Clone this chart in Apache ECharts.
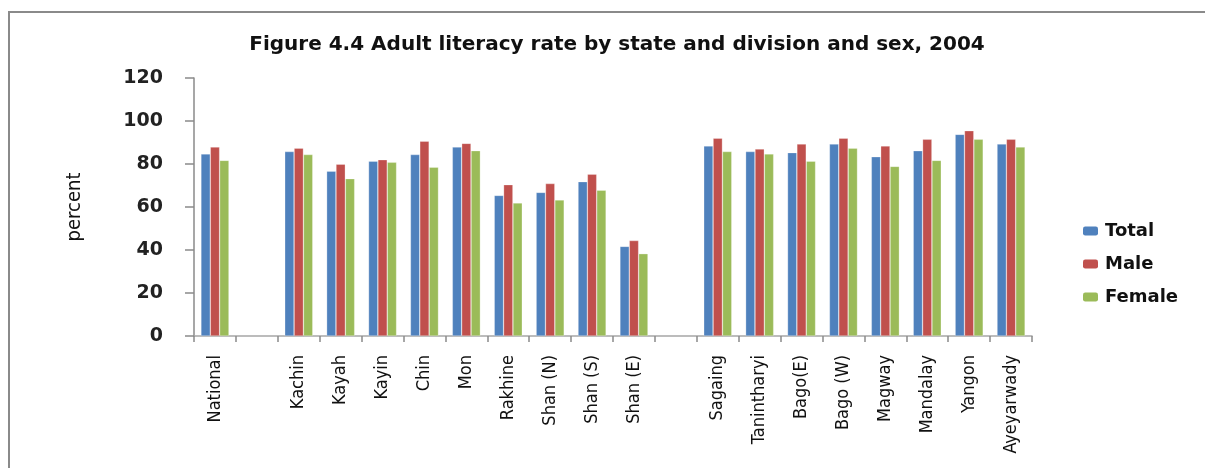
<!DOCTYPE html>
<html>
<head>
<meta charset="utf-8">
<title>Adult literacy rate by state and division and sex, 2004</title>
<script src="https://cdn.jsdelivr.net/npm/echarts@6/dist/echarts.min.js"></script>
<style>
  html, body { margin: 0; padding: 0; background: #ffffff; }
  #chart { width: 1205px; height: 468px; }
</style>
</head>
<body>
<div id="chart"></div>
<script>
// Categories along the x axis; empty strings leave gaps between groups
const categories = [
  'National', '',
  'Kachin', 'Kayah', 'Kayin', 'Chin', 'Mon', 'Rakhine', 'Shan (N)', 'Shan (S)', 'Shan (E)', ' ',
  'Sagaing', 'Tanintharyi', 'Bago(E)', 'Bago (W)', 'Magway', 'Mandalay', 'Yangon', 'Ayeyarwady'
];

// Adult literacy rate (percent)
const totalValues  = [84.7, null, 85.8, 76.7, 81.3, 84.4, 87.9, 65.4, 66.8, 71.8, 41.7, null, 88.4, 85.8, 85.3, 89.3, 83.4, 86.2, 93.8, 89.3];
const maleValues   = [87.9, null, 87.4, 79.9, 82.0, 90.6, 89.6, 70.4, 70.9, 75.3, 44.4, null, 92.0, 87.0, 89.3, 92.0, 88.4, 91.5, 95.5, 91.5];
const femaleValues = [81.7, null, 84.4, 73.2, 80.8, 78.5, 86.2, 61.9, 63.3, 67.8, 38.3, null, 85.8, 84.7, 81.3, 87.4, 78.9, 81.7, 91.5, 87.9];

const yTicks = [0, 20, 40, 60, 80, 100, 120];

const chartTitle = 'Figure 4.4 Adult literacy rate by state and division and sex, 2004';

const narrowFont = '"DejaVu Sans Condensed", "Liberation Sans", sans-serif';

const chart = echarts.init(document.getElementById('chart'), null, { renderer: 'canvas' });

const barSeries = (name, data, color) => ({
  name: name,
  type: 'bar',
  data: data,
  barGap: '0%',
  barCategoryGap: '33%',
  itemStyle: { color: color, borderColor: 'rgba(255,255,255,0.45)', borderWidth: 0.6 },
  emphasis: { disabled: true }
});

chart.setOption({
  animation: false,
  backgroundColor: '#ffffff',
  graphic: [{
    type: 'rect',
    silent: true,
    shape: { x: 9, y: 12, width: 1400, height: 800 },
    style: { fill: 'none', stroke: '#8a8a8a', lineWidth: 2 }
  }],
  title: {
    text: chartTitle,
    left: 612,
    textAlign: 'center',
    top: 30,
    textStyle: {
      fontFamily: 'DejaVu Sans',
      fontWeight: 'bold',
      fontSize: 20,
      color: '#111111'
    }
  },
  legend: {
    orient: 'vertical',
    left: 1083,
    top: 222,
    padding: 0,
    itemWidth: 15,
    itemHeight: 9,
    itemGap: 15,
    itemStyle: { borderWidth: 0 },
    textStyle: {
      fontFamily: 'DejaVu Sans',
      fontWeight: 'bold',
      fontSize: 18,
      color: '#111111',
      padding: [0, 0, 0, 2]
    },
    data: ['Total', 'Male', 'Female']
  },
  grid: {
    left: 194,
    right: 173,
    top: 78,
    bottom: 132,
    containLabel: false
  },
  xAxis: {
    type: 'category',
    data: categories,
    axisLine: { lineStyle: { color: '#a6a6a6', width: 1.5 } },
    axisTick: { show: true, length: 6, alignWithLabel: false, lineStyle: { color: '#8a8a8a', width: 1.5 } },
    axisLabel: {
      rotate: 90,
      interval: 0,
      margin: 19,
      fontFamily: narrowFont,
      fontSize: 18,
      color: '#111111'
    }
  },
  yAxis: {
    type: 'value',
    min: yTicks[0],
    max: yTicks[yTicks.length - 1],
    interval: 20,
    name: 'percent',
    nameLocation: 'middle',
    nameRotate: 90,
    nameGap: 109,
    nameTextStyle: {
      fontFamily: narrowFont,
      fontSize: 20,
      color: '#111111'
    },
    axisLine: { show: true, lineStyle: { color: '#8a8a8a', width: 1.5 } },
    axisTick: { show: true, inside: false, length: 9, lineStyle: { color: '#8a8a8a', width: 1.5 } },
    splitLine: { show: false },
    axisLabel: {
      margin: 31,
      fontFamily: 'DejaVu Sans',
      fontWeight: 'bold',
      fontSize: 19,
      color: '#222222'
    }
  },
  series: [
    barSeries('Total', totalValues, '#4F81BD'),
    barSeries('Male', maleValues, '#C0504D'),
    barSeries('Female', femaleValues, '#9BBB59')
  ]
});
</script>
</body>
</html>
